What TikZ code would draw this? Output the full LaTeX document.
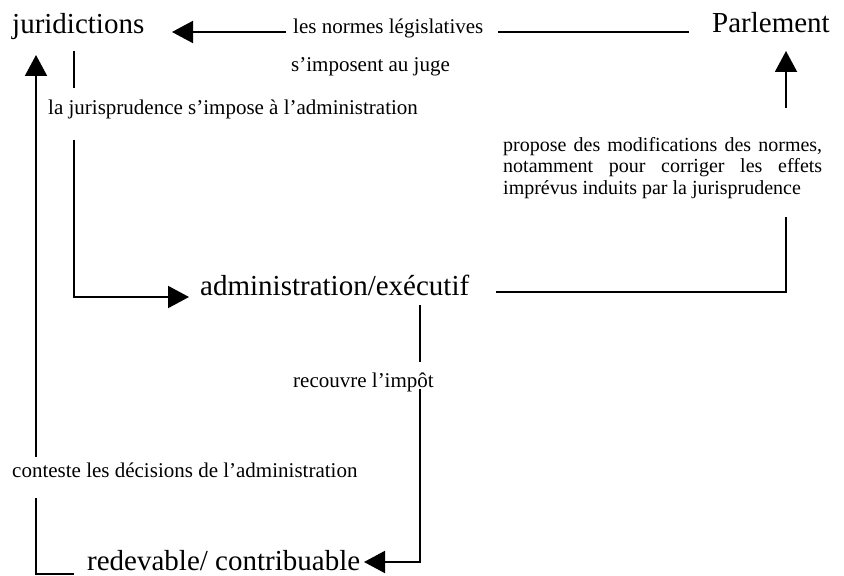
\documentclass[tikz,border=0pt]{standalone}
\usepackage{fontspec}
\setmainfont{Liberation Serif}
\usetikzlibrary{arrows.meta}
\newcommand\fbig{\fontsize{29bp}{33bp}\selectfont}
\newcommand\fsmall{\fontsize{21bp}{22bp}\selectfont}
\newcommand\fpara{\fontsize{20bp}{21.5bp}\selectfont}
\begin{document}
\begin{tikzpicture}[x=1bp,y=-1bp,
  bigtext/.style={anchor=base west,inner sep=0pt,font=\fbig},
  smalltext/.style={anchor=base west,inner sep=0pt,font=\fsmall},
  conn/.style={line width=2bp,line join=miter},
  arr/.style={conn,-{Triangle[length=21bp,width=22bp]}}]
\useasboundingbox (0,0) rectangle (844,576);
% main nodes
\node[bigtext] (jur) at (12,34) {juridictions};
\node[bigtext] (parl) at (712,33) {Parlement};
\node[bigtext] (adm) at (200,295) {administration/exécutif};
\node[bigtext] (red) at (87,570) {redevable/ contribuable};
% labels
\node[smalltext] (lnl) at (293,34) {les normes législatives};
\node[smalltext] (simp) at (291,72) {s’imposent au juge};
\node[smalltext] (jurisp) at (48,115) {la jurisprudence s’impose à l’administration};
\node[anchor=north west,inner sep=0pt,font=\fpara,align=left] (prop) at (503,137)
  {\makebox[319bp][s]{propose des modifications des normes,}\\
   \makebox[319bp][s]{notamment pour corriger les effets}\\
   imprévus induits par la jurisprudence};
\node[smalltext] (rec) at (293,387) {recouvre l’impôt};
\node[smalltext] (cont) at (12,477) {conteste les décisions de l’administration};
% connector points
\coordinate (p1) at (689,32);
\coordinate (p2) at (498,32);
\coordinate (p3) at (286,32);
\coordinate (p4) at (172,32);
\coordinate (j1) at (74,51);
\coordinate (j2) at (74,88);
\coordinate (j3) at (74,140);
\coordinate (j4) at (74,297);
\coordinate (j5) at (189,297);
\coordinate (a1) at (496,292);
\coordinate (a2) at (786,292);
\coordinate (a3) at (786,217);
\coordinate (a4) at (786,108);
\coordinate (a5) at (786,51);
\coordinate (r1) at (420,305);
\coordinate (r2) at (420,362);
\coordinate (r3) at (420,389);
\coordinate (r4) at (420,562);
\coordinate (r5) at (364,562);
\coordinate (c1) at (74,574);
\coordinate (c2) at (36,574);
\coordinate (c3) at (36,498);
\coordinate (c4) at (36,457);
\coordinate (c5) at (36,55);
% connectors
\draw[conn] (p1) -- (p2);
\draw[arr] (p3) -- (p4);
\draw[conn] (j1) -- (j2);
\draw[arr] (j3) -- (j4) -- (j5);
\draw[conn] (a1) -- (a2) -- (a3);
\draw[arr] (a4) -- (a5);
\draw[conn] (r1) -- (r2);
\draw[arr] (r3) -- (r4) -- (r5);
\draw[conn] (c1) -- (c2) -- (c3);
\draw[arr] (c4) -- (c5);
\end{tikzpicture}
\end{document}
